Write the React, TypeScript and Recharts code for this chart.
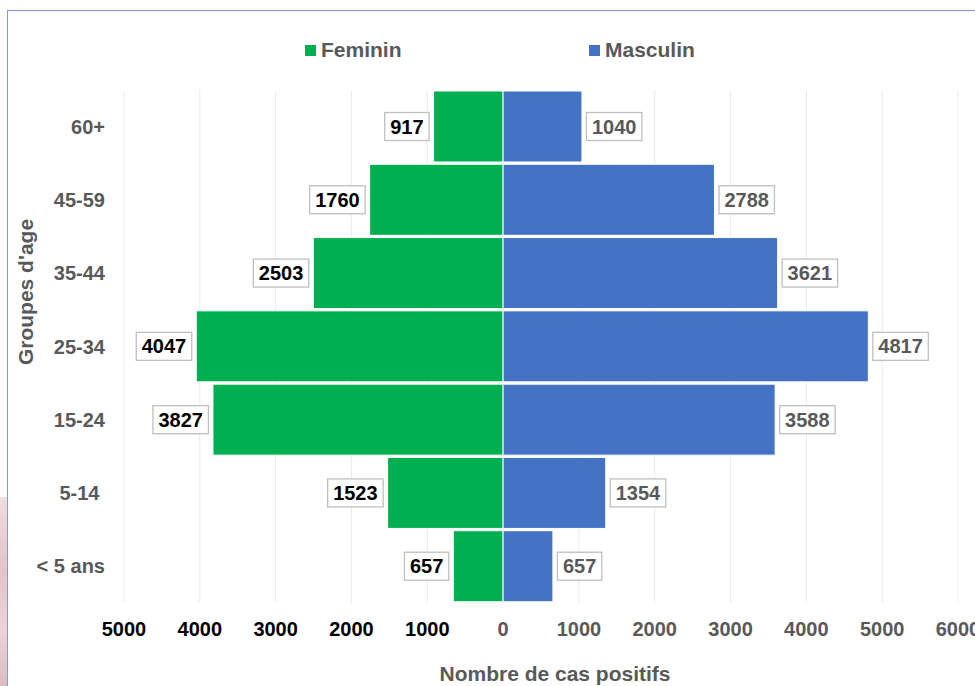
import { BarChart, Bar, XAxis, YAxis, CartesianGrid, LabelList, Legend, Label } from 'recharts';

const FONT = '"Liberation Sans", Arial, sans-serif';

// age groups, top to bottom
const ageGroups = ['60+', '45-59', '35-44', '25-34', '15-24', '5-14\u00a0', '< 5 ans'];
const femaleCases = [917, 1760, 2503, 4047, 3827, 1523, 657];
const maleCases = [1040, 2788, 3621, 4817, 3588, 1354, 657];
const xTicks = [-5000, -4000, -3000, -2000, -1000, 0, 1000, 2000, 3000, 4000, 5000, 6000];

const GREEN = '#00b050';
const BLUE = '#4472c4';
const GREY_TEXT = '#595959';

const data = ageGroups.map((age, i) => ({
  age,
  feminin: -femaleCases[i],
  masculin: maleCases[i],
}));

// boxed value label next to the end of each bar
const boxLabel = (side: 'left' | 'right', color: string) => (props: any) => {
  const { x, y, width, height, value } = props;
  const text = String(Math.abs(Number(value)));
  const w = text.length * 0.556 * 20 + 11;
  const h = 28;
  const x0 = Number(x);
  const w0 = Number(width);
  const left = Math.min(x0, x0 + w0);
  const right = Math.max(x0, x0 + w0);
  const bx = side === 'left' ? left - 4.5 - w : right + 4.5;
  const cy = Number(y) + Number(height) / 2;
  return (
    <g>
      <rect x={bx} y={cy - h / 2} width={w} height={h} fill="#fff" stroke="#bfbfbf" strokeWidth={1.3} />
      <text
        x={bx + w / 2}
        y={cy}
        textAnchor="middle"
        dominantBaseline="central"
        fill={color}
        fontSize={20}
        fontWeight={700}
        fontFamily={FONT}
      >
        {text}
      </text>
    </g>
  );
};

const XTick = (props: any) => {
  const { x, y, payload } = props;
  const v = Number(payload.value);
  return (
    <text
      x={x}
      y={y}
      dy="0.71em"
      textAnchor="middle"
      fill={v < 0 ? '#000' : GREY_TEXT}
      fontSize={20}
      fontWeight={700}
      fontFamily={FONT}
    >
      {Math.abs(v)}
    </text>
  );
};

const LegendContent = () => (
  <div style={{ position: 'relative', height: 30, fontFamily: FONT, fontWeight: 700, fontSize: 21, color: GREY_TEXT }}>
    {[
      { name: 'Feminin', color: GREEN, left: 305 },
      { name: 'Masculin', color: BLUE, left: 589 },
    ].map((it) => (
      <div key={it.name} style={{ position: 'absolute', left: it.left, top: 0, height: 30, display: 'flex', alignItems: 'center' }}>
        <span style={{ width: 11, height: 11, background: it.color, display: 'inline-block', marginRight: 5 }} />
        <span style={{ lineHeight: '30px' }}>{it.name}</span>
      </div>
    ))}
  </div>
);

export default function App() {
  return (
    <div style={{ position: 'absolute', left: 0, top: 0, width: 975, height: 686, overflow: 'hidden', background: '#fff' }}>
      <div
        style={{
          position: 'absolute',
          left: 0,
          top: 497,
          width: 7,
          height: 189,
          background: 'linear-gradient(180deg, #efdde1 0%, #e2c3ca 40%, #ecd4d9 70%, #dcbcc4 100%)',
        }}
      />
      <div
        style={{
          position: 'absolute',
          left: 7,
          top: 10,
          width: 1100,
          height: 1100,
          border: '1px solid #7f9bdc',
          boxSizing: 'border-box',
        }}
      />
      <div style={{ position: 'absolute', left: 0, top: 0 }}>
        <BarChart
          width={975}
          height={686}
          data={data}
          layout="vertical"
          stackOffset="sign"
          barCategoryGap={1}
          margin={{ top: 60, right: 17, bottom: 53, left: 0 }}
        >
          <CartesianGrid vertical horizontal={false} stroke="#ebebeb" />
          <XAxis
            type="number"
            domain={[-5000, 6000]}
            ticks={xTicks}
            interval={0}
            height={30}
            axisLine={false}
            tickLine={false}
            tickMargin={13}
            tick={<XTick />}
          >
            <Label
              content={(p: any) => {
                const vb = p.viewBox;
                return (
                  <text
                    x={vb.x + vb.width / 2 + 14}
                    y={681}
                    textAnchor="middle"
                    fill={GREY_TEXT}
                    fontSize={21}
                    fontWeight={700}
                    fontFamily={FONT}
                  >
                    Nombre de cas positifs
                  </text>
                );
              }}
            />
          </XAxis>
          <YAxis
            type="category"
            dataKey="age"
            width={124}
            axisLine={false}
            tickLine={false}
            tickMargin={13}
            tick={{ fill: GREY_TEXT, fontSize: 20, fontWeight: 700, fontFamily: FONT }}
          >
            <Label
              content={() => (
                <text
                  x={33}
                  y={292}
                  transform="rotate(-90 33 292)"
                  textAnchor="middle"
                  fill={GREY_TEXT}
                  fontSize={21}
                  fontWeight={700}
                  fontFamily={FONT}
                >
                  Groupes d'age
                </text>
              )}
            />
          </YAxis>
          <Legend verticalAlign="top" content={<LegendContent />} wrapperStyle={{ top: 35, left: 0, width: 975 }} />
          <Bar dataKey="feminin" name="Feminin" stackId="a" fill={GREEN} stroke="#fff" strokeWidth={1} isAnimationActive={false}>
            <LabelList dataKey="feminin" content={boxLabel('left', '#000')} />
          </Bar>
          <Bar dataKey="masculin" name="Masculin" stackId="a" fill={BLUE} stroke="#fff" strokeWidth={1} isAnimationActive={false}>
            <LabelList dataKey="masculin" content={boxLabel('right', GREY_TEXT)} />
          </Bar>
        </BarChart>
      </div>
    </div>
  );
}
